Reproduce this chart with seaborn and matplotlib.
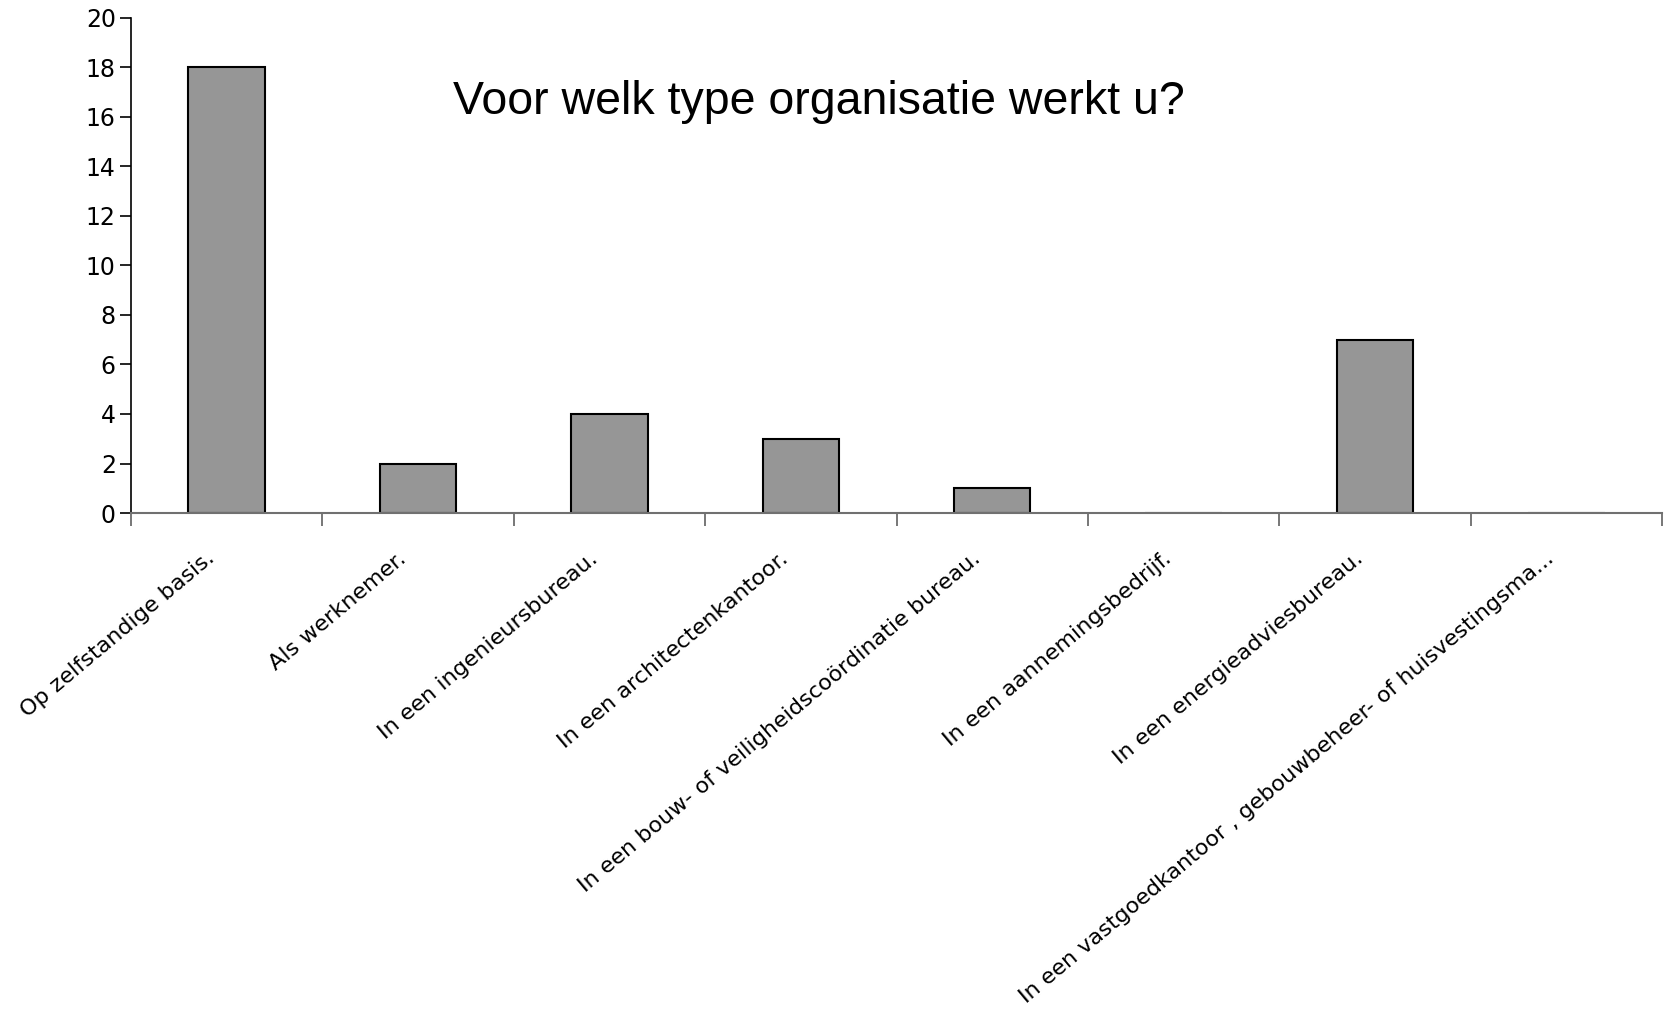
import matplotlib
matplotlib.use("Agg")
import matplotlib.pyplot as plt
import matplotlib.transforms as mtransforms
import seaborn as sns
import pandas as pd
import numpy as np
from matplotlib import font_manager

categories = [
    "Op zelfstandige basis.",
    "Als werknemer.",
    "In een ingenieursbureau.",
    "In een architectenkantoor.",
    "In een bouw- of veiligheidscoördinatie bureau.",
    "In een aannemingsbedrijf.",
    "In een energieadviesbureau.",
    "In een vastgoedkantoor , gebouwbeheer- of huisvestingsma...",
]
values = [18, 2, 4, 3, 1, 0, 7, 0]
title = "Voor welk type organisatie werkt u?"

sns.set_theme(style="white")
plt.rcParams['font.family'] = ['DejaVu Sans']
plt.rcParams['text.color'] = 'black'
plt.rcParams['xtick.color'] = 'black'
plt.rcParams['ytick.color'] = 'black'
plt.rcParams['axes.labelcolor'] = 'black'

avail = {f.name for f in font_manager.fontManager.ttflist}
title_font = ['Liberation Sans Narrow'] if 'Liberation Sans Narrow' in avail else ['Liberation Sans', 'DejaVu Sans']

df = pd.DataFrame({"cat": categories, "val": values})

fig = plt.figure(figsize=(16.74, 10.22), dpi=100)
ax = fig.add_axes([0.0783, 0.498, 0.9145, 0.4846])
sns.barplot(data=df, x="cat", y="val", color="#969696", edgecolor="black",
            linewidth=1.5, width=0.4, saturation=1, ax=ax)

ax.set_xlim(-0.5, len(categories) - 0.5)
ax.set_ylim(0, 20)
ax.set_yticks(np.arange(0, 21, 2))
ax.set_xlabel("")
ax.set_ylabel("")

# major ticks at category boundaries, labels on minor ticks at centres
ax.set_xticks(np.arange(-0.5, len(categories) + 0.5, 1))
ax.set_xticklabels([])
ax.set_xticks(np.arange(len(categories)), minor=True)
ax.set_xticklabels(categories, minor=True, rotation=40, ha="right",
                   va="baseline", rotation_mode="anchor", fontsize=16)
ax.tick_params(axis="x", which="major", length=9, width=1.2, color="#606060", direction="out", bottom=True)
ax.tick_params(axis="x", which="minor", length=0, pad=34)
ax.tick_params(axis="y", length=8, width=1.2, color="black", direction="out", left=True, labelsize=17, pad=3)

offset = mtransforms.ScaledTranslation(-11 / 100, 0, fig.dpi_scale_trans)
for lbl in ax.get_xticklabels(minor=True):
    lbl.set_transform(lbl.get_transform() + offset)

for s in ["top", "right"]:
    ax.spines[s].set_visible(False)
ax.spines["left"].set_color("black")
ax.spines["left"].set_linewidth(1.2)
ax.spines["bottom"].set_color("#707070")
ax.spines["bottom"].set_linewidth(1.5)

ax.text(0.449, 0.829, title, transform=ax.transAxes, ha="center", va="center",
        fontsize=33.5, family=title_font, color="black")

fig.savefig("out.png", dpi=100)
